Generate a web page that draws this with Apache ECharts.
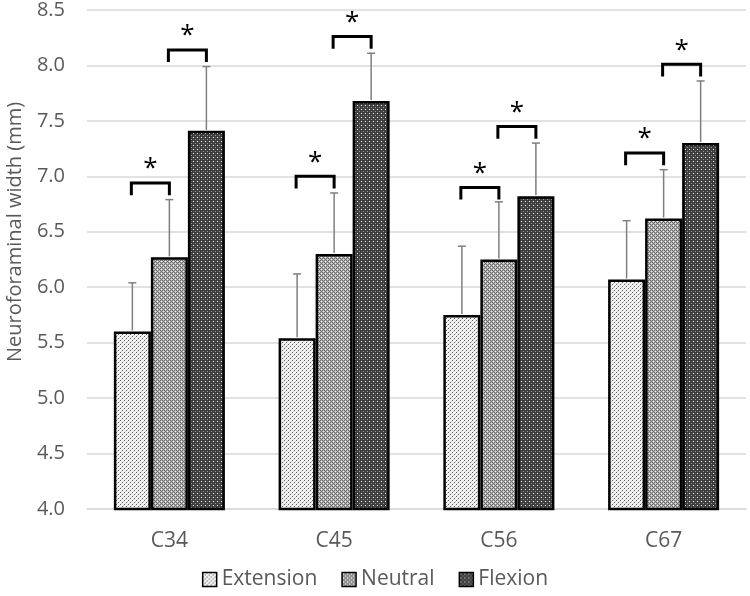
<!DOCTYPE html>
<html>
<head>
<meta charset="utf-8">
<script src="https://cdn.jsdelivr.net/npm/echarts@6/dist/echarts.min.js"></script>
<style>
html,body{margin:0;padding:0;background:#fff;}
#chart{width:750px;height:596px;}
</style>
</head>
<body>
<div id="chart"></div>
<script>
// ---- data ----
var categories = ['C34', 'C45', 'C56', 'C67'];
var seriesNames = ['Extension', 'Neutral', 'Flexion'];
var extension = [5.60, 5.54, 5.75, 6.07];
var neutral   = [6.27, 6.30, 6.25, 6.62];
var flexion   = [7.41, 7.68, 6.82, 7.30];
var extensionSD = [0.44, 0.58, 0.62, 0.53];
var neutralSD   = [0.52, 0.55, 0.52, 0.44];
var flexionSD   = [0.58, 0.43, 0.48, 0.56];
// significance brackets: height of bracket top
var bracketExtNeu  = [6.94, 7.00, 6.90, 7.21];
var bracketNeuFlex = [8.14, 8.26, 7.45, 8.01];
var yTicks = ['4.0','4.5','5.0','5.5','6.0','6.5','7.0','7.5','8.0','8.5'];

// ---- patterns ----
function makePattern(size, bg, pixels) {
  var c = document.createElement('canvas');
  c.width = size; c.height = size;
  var g = c.getContext('2d');
  g.fillStyle = bg; g.fillRect(0, 0, size, size);
  pixels.forEach(function (p) { g.fillStyle = p[2]; g.fillRect(p[0], p[1], 1, 1); });
  return { image: c, repeat: 'repeat' };
}
var patExt = makePattern(4, '#f2f2f2', [[0,0,'#5e5e5e'],[2,2,'#5e5e5e'],[1,3,'#cccccc'],[3,1,'#cccccc']]);
var neuPix = [];
for (var yy = 0; yy < 4; yy++) for (var xx = 0; xx < 4; xx++) {
  if ((xx + yy) % 2 === 0) neuPix.push([xx, yy, '#6c6c6c']);
}
neuPix.push([1,1,'#ffffff']); neuPix.push([3,3,'#e6e6e6']);
var patNeu = makePattern(4, '#b4b4b4', neuPix);
var patFlex = makePattern(4, '#3c3c3c', [[1,1,'#ffffff'],[3,3,'#9a9a9a'],[3,1,'#505050'],[1,3,'#505050']]);
var patterns = [patExt, patNeu, patFlex];

var gapRatio = 0.326;
var font = '"Open Sans", "Noto Sans", sans-serif';

function barOffset(api, k) {
  var band = api.size([1, 0])[0];
  var bw = band * (1 - gapRatio) / 3;
  return (k - 1) * bw;
}

var valueSets = [extension, neutral, flexion];
var sdSets = [extensionSD, neutralSD, flexionSD];

var series = [];
seriesNames.forEach(function (name, k) {
  series.push({
    name: name,
    type: 'bar',
    data: valueSets[k],
    barGap: '0%',
    barCategoryGap: (gapRatio * 100) + '%',
    itemStyle: { color: patterns[k], borderColor: '#000', borderWidth: 2.5 },
    emphasis: { disabled: true },
    z: 2
  });
});

// error bars
var errData = [];
valueSets.forEach(function (vals, k) {
  vals.forEach(function (v, j) { errData.push([j, v, sdSets[k][j], k]); });
});
series.push({
  type: 'custom',
  name: 'err',
  z: 3,
  silent: true,
  data: errData,
  encode: { x: 0, y: 1 },
  renderItem: function (params, api) {
    var j = api.value(0), v = api.value(1), sd = api.value(2), k = api.value(3);
    var p0 = api.coord([j, v]);
    var p1 = api.coord([j, v + sd]);
    var x = p0[0] + barOffset(api, k);
    var st = { stroke: '#7f7f7f', lineWidth: 1.5 };
    return {
      type: 'group',
      children: [
        { type: 'line', shape: { x1: x, y1: p0[1] - 1, x2: x, y2: p1[1] }, style: st },
        { type: 'line', shape: { x1: x - 4, y1: p1[1], x2: x + 4, y2: p1[1] }, style: st }
      ]
    };
  }
});

// significance brackets
var brData = [];
bracketExtNeu.forEach(function (h, j) { brData.push([j, h, 0]); });
bracketNeuFlex.forEach(function (h, j) { brData.push([j, h, 1]); });
series.push({
  type: 'custom',
  name: 'sig',
  z: 4,
  silent: true,
  data: brData,
  encode: { x: 0, y: 1 },
  renderItem: function (params, api) {
    var j = api.value(0), h = api.value(1), kind = api.value(2);
    var top = api.coord([j, h]);
    var bot = api.coord([j, h - 0.11]);
    var xa = top[0] + barOffset(api, kind) - 1;
    var xb = top[0] + barOffset(api, kind + 1);
    return {
      type: 'group',
      children: [
        { type: 'polyline',
          shape: { points: [[xa, bot[1]], [xa, top[1]], [xb, top[1]], [xb, bot[1]]] },
          style: { stroke: '#000', lineWidth: 3, fill: null, lineJoin: 'miter' } },
        { type: 'text', x: (xa + xb) / 2, y: top[1] - 1,
          style: { text: '*', fill: '#000', font: '26px ' + font, align: 'center', verticalAlign: 'bottom' } }
      ]
    };
  }
});

var chart = echarts.init(document.getElementById('chart'), null, { renderer: 'canvas' });
chart.setOption({
  animation: false,
  backgroundColor: '#fff',
  textStyle: { fontFamily: font },
  grid: { left: 87, right: 4, top: 10, bottom: 87, containLabel: false },
  xAxis: {
    type: 'category',
    data: categories,
    axisLine: { lineStyle: { color: '#d9d9d9', width: 1.5 } },
    axisTick: { show: false },
    axisLabel: { color: '#595959', fontSize: 21, margin: 22, fontFamily: font }
  },
  yAxis: {
    type: 'value',
    min: 4.0, max: 8.5, interval: 0.5,
    axisLine: { show: false },
    axisTick: { show: false },
    splitLine: { lineStyle: { color: '#d9d9d9', width: 1.5 } },
    axisLabel: {
      color: '#595959', fontSize: 20, margin: 22, fontFamily: font,
      formatter: function (v) { var i = Math.round((v - 4) / 0.5); return yTicks[i] !== undefined ? yTicks[i] : v.toFixed(1); }
    }
  },
  legend: {
    data: seriesNames,
    bottom: 1,
    left: 'center',
    icon: 'rect',
    itemWidth: 14, itemHeight: 14,
    itemGap: 24,
    selectedMode: false,
    itemStyle: { borderColor: '#000', borderWidth: 1.5 },
    textStyle: { color: '#595959', fontSize: 21, fontFamily: font }
  },
  graphic: [{
    type: 'text',
    x: 15, y: 232,
    rotation: Math.PI / 2,
    style: { text: 'Neuroforaminal width (mm)', fill: '#595959', font: '20px ' + font, align: 'center', verticalAlign: 'middle' }
  }],
  series: series
});
</script>
</body>
</html>
